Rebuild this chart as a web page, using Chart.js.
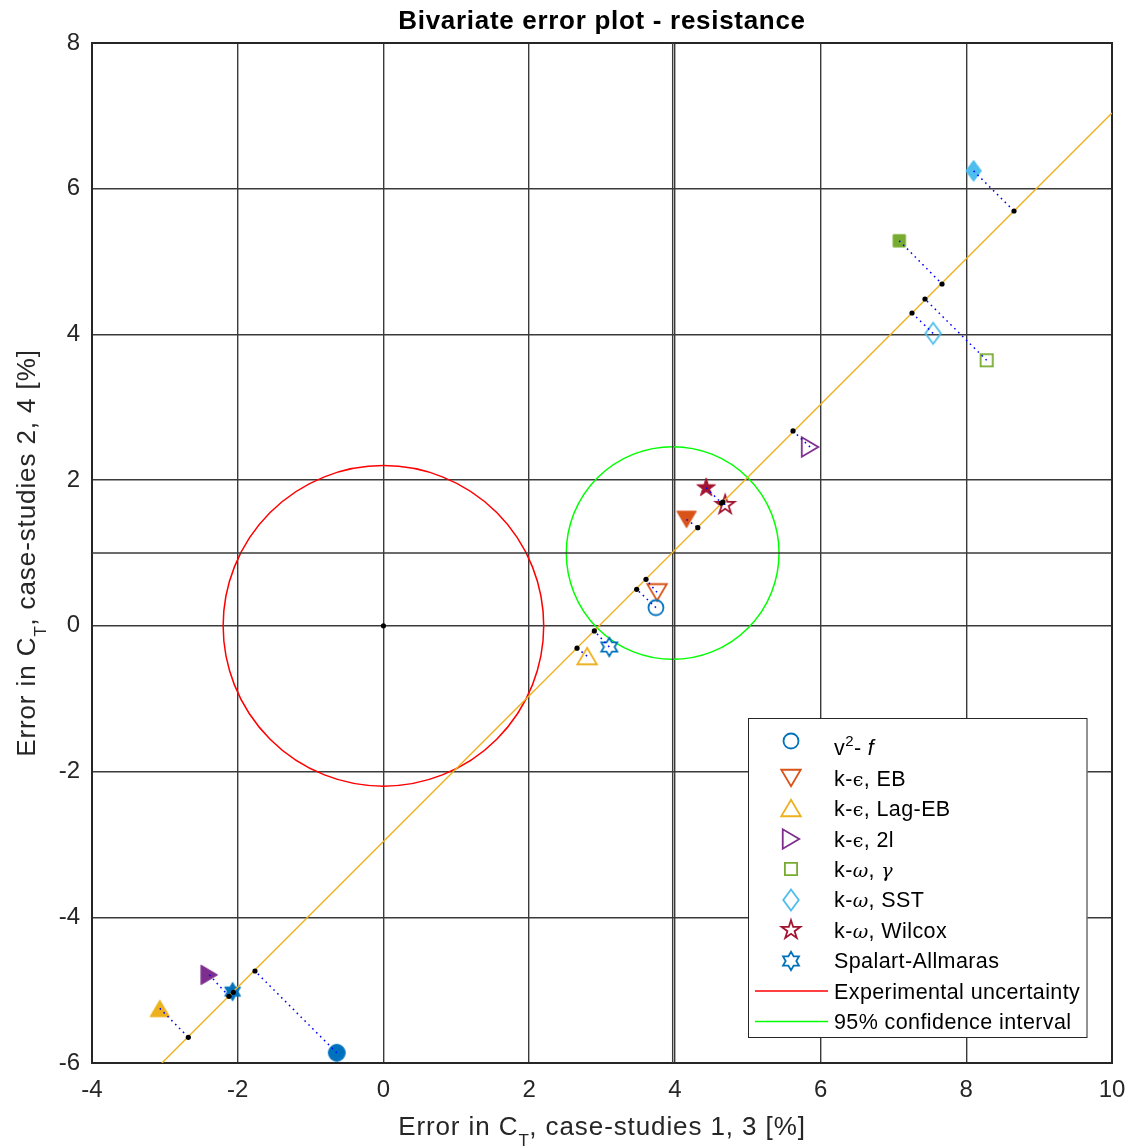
<!DOCTYPE html>
<html>
<head>
<meta charset="utf-8">
<script src="https://cdn.jsdelivr.net/npm/chart.js@4.4.1/dist/chart.umd.min.js"></script>
<style>
html,body{margin:0;padding:0;background:#ffffff;}
canvas{display:block;}
</style>
</head>
<body>
<canvas id="c" width="1131" height="1147"></canvas>
<script>
// ---------------- DATA ----------------
const modelNames = ['v2- f', 'k-ϵ, EB', 'k-ϵ, Lag-EB', 'k-ϵ, 2l', 'k-ω, γ', 'k-ω, SST', 'k-ω, Wilcox', 'Spalart-Allmaras'];
// filled markers: case-studies 1 (x) and 2 (y)
const filledX = [-0.64, 4.16, -3.07, -2.39, 7.08, 8.10, 4.43, -2.07];
const filledY = [-5.86, 1.46, -5.25, -4.79, 5.285, 6.245, 1.895, -5.02];
// open markers: case-studies 3 (x) and 4 (y)
const openX = [3.74, 3.755, 2.795, 5.855, 8.28, 7.545, 4.69, 3.10];
const openY = [0.25, 0.46, -0.415, 2.455, 3.645, 4.015, 1.66, -0.29];
// projections of the markers on the fitted line (black dots)
const projFilledX = [-1.763, 4.315, -2.678, -2.12, 7.667, 8.655, 4.64, -2.06];
const projFilledY = [-4.737, 1.348, -5.647, -5.085, 4.692, 5.694, 1.686, -5.03];
const projOpenX = [3.476, 3.604, 2.657, 5.622, 7.433, 7.255, 4.66, 2.895];
const projOpenY = [0.502, 0.638, -0.306, 2.675, 4.486, 4.294, 1.70, -0.069];
// fitted line (where it enters / leaves the axes)
const fitX = [-3.04, 10];
const fitY = [-6, 7.04];
// origin dot
const originX = [0];
const originY = [0];
// circles: experimental uncertainty, 95% confidence interval
const circleCX = [0, 3.97];
const circleCY = [0, 1.0];
const circleR = [2.2, 1.46];
// reference lines through the confidence-interval centre
const refLineX = [3.97];
const refLineY = [1.0];
// axes
const xMin = -4, xMax = 10, yMin = -6, yMax = 8;
const xTicks = [-4, -2, 0, 2, 4, 6, 8, 10];
const yTicks = [-6, -4, -2, 0, 2, 4, 6, 8];
const titleText = 'Bivariate error plot - resistance';
const xTitleParts = ['Error in C', 'T', ', case-studies 1, 3 [%]'];
const yTitleParts = ['Error in C', 'T', ', case-studies 2, 4 [%]'];
const legendExtra = ['Experimental uncertainty', '95% confidence interval'];

// ---------------- STYLES ----------------
const FONT = '"Liberation Sans", Arial, Helvetica, sans-serif';
const GREEK = '"DejaVu Serif", "Liberation Serif", serif';
const TEXT = '#262626';
const modelColors = ['#0072BD', '#D95319', '#EDB120', '#7E2F8E', '#77AC30', '#4DBEEE', '#A2142F', '#0072BD'];
const modelShapes = ['circle', 'triDown', 'triUp', 'triRight', 'square', 'diamond', 'pentagram', 'hexagram'];
const circleColors = ['#FF0000', '#00FF00'];
const GRID = '#3a3a3a';

function mk(shape, color, filled) {
  const S = 28;
  const c = document.createElement('canvas');
  c.width = S; c.height = S;
  const g = c.getContext('2d');
  g.translate(S / 2, S / 2);
  g.beginPath();
  const poly = pts => { g.moveTo(pts[0][0], pts[0][1]); for (let i = 1; i < pts.length; i++) g.lineTo(pts[i][0], pts[i][1]); g.closePath(); };
  const star = (n, R, r) => { const p = []; for (let k = 0; k < 2 * n; k++) { const a = -Math.PI / 2 + k * Math.PI / n; const rr = k % 2 ? r : R; p.push([rr * Math.cos(a), rr * Math.sin(a)]); } poly(p); };
  switch (shape) {
    case 'circle': g.arc(0, 0, filled ? 8.4 : 7.5, 0, Math.PI * 2); break;
    case 'triUp': { const w = 19.5, h = 16.5; poly([[0, -h / 2], [w / 2, h / 2], [-w / 2, h / 2]]); break; }
    case 'triDown': { const w = 19.5, h = 16.5; poly([[0, h / 2], [w / 2, -h / 2], [-w / 2, -h / 2]]); break; }
    case 'triRight': { const w = 16.5, h = 19.5; poly([[w / 2, 0], [-w / 2, -h / 2], [-w / 2, h / 2]]); break; }
    case 'square': { const s = 12.2; g.rect(-s / 2, -s / 2, s, s); break; }
    case 'diamond': { const w = 15.5, h = 21; poly([[0, -h / 2], [w / 2, 0], [0, h / 2], [-w / 2, 0]]); break; }
    case 'pentagram': star(5, 9.8, 9.8 * 0.382); break;
    case 'hexagram': star(6, 9.2, 9.2 / Math.sqrt(3)); break;
  }
  g.lineJoin = 'miter';
  if (filled) { g.fillStyle = color; g.fill(); g.lineWidth = 1; g.strokeStyle = color; g.stroke(); }
  else { g.lineWidth = 1.8; g.strokeStyle = color; g.stroke(); }
  return c;
}
const markerFilled = modelShapes.map((s, i) => mk(s, modelColors[i], true));
const markerOpen = modelShapes.map((s, i) => mk(s, modelColors[i], false));

// ---------------- DATASETS ----------------
const datasets = [];
// black projection dots (top-most)
const dotData = [];
for (let i = 0; i < modelNames.length; i++) {
  dotData.push({ x: projFilledX[i], y: projFilledY[i] });
  dotData.push({ x: projOpenX[i], y: projOpenY[i] });
}
for (let i = 0; i < originX.length; i++) dotData.push({ x: originX[i], y: originY[i] });
datasets.push({ label: 'projections', data: dotData, showLine: false, pointStyle: 'circle', pointRadius: 2.6,
  pointBackgroundColor: '#000', pointBorderColor: '#000', pointBorderWidth: 0, order: 0 });
// blue dotted connectors
for (let i = 0; i < modelNames.length; i++) {
  datasets.push({ label: 'conn-f' + i, data: [{ x: filledX[i], y: filledY[i] }, { x: projFilledX[i], y: projFilledY[i] }],
    showLine: true, borderColor: '#0000FF', borderWidth: 1.5, borderDash: [1.6, 3.9], pointRadius: 0, order: 1 });
  datasets.push({ label: 'conn-o' + i, data: [{ x: openX[i], y: openY[i] }, { x: projOpenX[i], y: projOpenY[i] }],
    showLine: true, borderColor: '#0000FF', borderWidth: 1.5, borderDash: [1.6, 3.9], pointRadius: 0, order: 1 });
}
// fitted line
datasets.push({ label: 'fit', data: fitX.map((x, i) => ({ x: x, y: fitY[i] })), showLine: true,
  borderColor: '#EDB120', borderWidth: 1.4, pointRadius: 0, order: 2 });
// model markers
for (let i = 0; i < modelNames.length; i++) {
  datasets.push({ label: modelNames[i], data: [{ x: filledX[i], y: filledY[i] }, { x: openX[i], y: openY[i] }],
    showLine: false, pointStyle: [markerFilled[i], markerOpen[i]], pointRadius: 9, order: 3 });
}
// reference lines
for (let i = 0; i < refLineX.length; i++) {
  datasets.push({ label: 'vref', data: [{ x: refLineX[i], y: yMin }, { x: refLineX[i], y: yMax }], showLine: true,
    borderColor: GRID, borderWidth: 1.4, pointRadius: 0, order: 4 });
}
for (let i = 0; i < refLineY.length; i++) {
  datasets.push({ label: 'href', data: [{ x: xMin, y: refLineY[i] }, { x: xMax, y: refLineY[i] }], showLine: true,
    borderColor: GRID, borderWidth: 1.4, pointRadius: 0, order: 4 });
}

// ---------------- TEXT HELPERS ----------------
function segWidth(g, s) { g.font = s.f; g.letterSpacing = s.ls || '0px'; return g.measureText(s.t).width; }
function drawRich(g, segs, x, y, align) {
  let w = 0; for (const s of segs) w += segWidth(g, s);
  let cx = align === 'center' ? x - w / 2 : x;
  for (const s of segs) { const sw = segWidth(g, s); g.fillText(s.t, cx, y + (s.dy || 0)); cx += sw; }
  g.letterSpacing = '0px';
}
function axisTitleSegs(parts) {
  return [
    { t: parts[0], f: '26px ' + FONT, ls: '0.9px' },
    { t: parts[1], f: '17px ' + FONT, ls: '0.6px', dy: 11 },
    { t: parts[2], f: '26px ' + FONT, ls: '0.9px' }
  ];
}
function legendSegs(name) {
  const N = '21.5px ' + FONT, LS = '0.4px';
  if (name === 'v2- f') return [{ t: 'v', f: N, ls: LS }, { t: '2', f: '15px ' + FONT, dy: -9, ls: LS }, { t: '- ', f: N, ls: LS }, { t: 'f', f: 'italic ' + N, ls: LS }];
  const segs = [];
  let buf = '';
  for (const ch of name) {
    if ('ϵωγ'.includes(ch)) {
      if (buf) { segs.push({ t: buf, f: N, ls: LS }); buf = ''; }
      segs.push({ t: ch, f: (ch === 'ϵ' ? '' : 'italic ') + '19px ' + GREEK, ls: LS });
    } else buf += ch;
  }
  if (buf) segs.push({ t: buf, f: N, ls: LS });
  return segs;
}

// ---------------- PLUGIN ----------------
const deco = {
  id: 'deco',
  beforeDatasetsDraw(chart) {
    const g = chart.ctx, a = chart.chartArea, xs = chart.scales.x, ys = chart.scales.y;
    g.save();
    // frame
    g.strokeStyle = TEXT; g.lineWidth = 2;
    g.strokeRect(a.left, a.top, a.right - a.left, a.bottom - a.top);
    // circles
    g.beginPath(); g.rect(a.left, a.top, a.right - a.left, a.bottom - a.top); g.clip();
    for (let i = 0; i < circleCX.length; i++) {
      const cx = xs.getPixelForValue(circleCX[i]), cy = ys.getPixelForValue(circleCY[i]);
      const rx = Math.abs(xs.getPixelForValue(circleCX[i] + circleR[i]) - cx);
      const ry = Math.abs(ys.getPixelForValue(circleCY[i] + circleR[i]) - cy);
      g.beginPath(); g.ellipse(cx, cy, rx, ry, 0, 0, Math.PI * 2);
      g.strokeStyle = circleColors[i]; g.lineWidth = 1.5; g.stroke();
    }
    g.restore();
  },
  afterDraw(chart) {
    const g = chart.ctx, a = chart.chartArea;
    g.save();
    g.fillStyle = '#000'; g.textAlign = 'left'; g.textBaseline = 'alphabetic';
    // title
    drawRich(g, [{ t: titleText, f: 'bold 26px ' + FONT, ls: '0.7px' }], (a.left + a.right) / 2, 29, 'center');
    // x title
    g.fillStyle = TEXT;
    drawRich(g, axisTitleSegs(xTitleParts), (a.left + a.right) / 2, 1135, 'center');
    // y title
    g.save(); g.translate(35, (a.top + a.bottom) / 2); g.rotate(-Math.PI / 2);
    drawRich(g, axisTitleSegs(yTitleParts), 0, 0, 'center');
    g.restore();
    // legend
    const L = 748, T = 718, R = 1087.5, B = 1038;
    g.fillStyle = '#fff'; g.fillRect(L, T, R - L, B - T);
    g.strokeStyle = TEXT; g.lineWidth = 1; g.strokeRect(L + 0.5, T + 0.5, R - L - 1, B - T - 1);
    const rowY0 = 747.5, step = 30.45, mx = 791, tx = 834;
    g.fillStyle = '#000';
    for (let i = 0; i < modelNames.length; i++) {
      const cy = rowY0 + step * i;
      const m = markerOpen[i];
      const my = cy - (i === 0 ? 6.5 : 0);
      g.drawImage(m, Math.round(mx - m.width / 2), Math.round(my - m.height / 2));
      drawRich(g, legendSegs(modelNames[i]), tx, cy + 7.7, 'left');
    }
    for (let j = 0; j < legendExtra.length; j++) {
      const cy = rowY0 + step * (modelNames.length + j);
      g.strokeStyle = circleColors[j]; g.lineWidth = 1.5;
      g.beginPath(); g.moveTo(755, cy); g.lineTo(828, cy); g.stroke();
      drawRich(g, [{ t: legendExtra[j], f: '21.5px ' + FONT, ls: '0.4px' }], tx, cy + 7.7, 'left');
    }
    g.restore();
  }
};

// ---------------- CHART ----------------
new Chart(document.getElementById('c').getContext('2d'), {
  type: 'scatter',
  data: { datasets: datasets },
  options: {
    responsive: false,
    devicePixelRatio: 1,
    animation: false,
    events: [],
    layout: { padding: { top: 43, right: 19, left: 0, bottom: 0 } },
    plugins: { legend: { display: false }, tooltip: { enabled: false }, title: { display: false } },
    scales: {
      x: {
        type: 'linear', min: xMin, max: xMax,
        afterBuildTicks: s => { s.ticks = xTicks.map(v => ({ value: v })); },
        afterFit: s => { s.height = 84; s.paddingLeft = 0; s.paddingRight = 0; },
        ticks: { color: TEXT, font: { family: FONT, size: 24 }, padding: 13, maxRotation: 0, callback: v => String(v) },
        grid: { color: GRID, lineWidth: 1.4, drawTicks: false },
        border: { display: false }
      },
      y: {
        type: 'linear', min: yMin, max: yMax,
        afterBuildTicks: s => { s.ticks = yTicks.map(v => ({ value: v })); },
        afterFit: s => { s.width = 92; s.paddingTop = 0; s.paddingBottom = 0; },
        ticks: { color: TEXT, font: { family: FONT, size: 24 }, padding: 12, callback: v => String(v) },
        grid: { color: GRID, lineWidth: 1.4, drawTicks: false },
        border: { display: false }
      }
    }
  },
  plugins: [deco]
});
</script>
</body>
</html>
